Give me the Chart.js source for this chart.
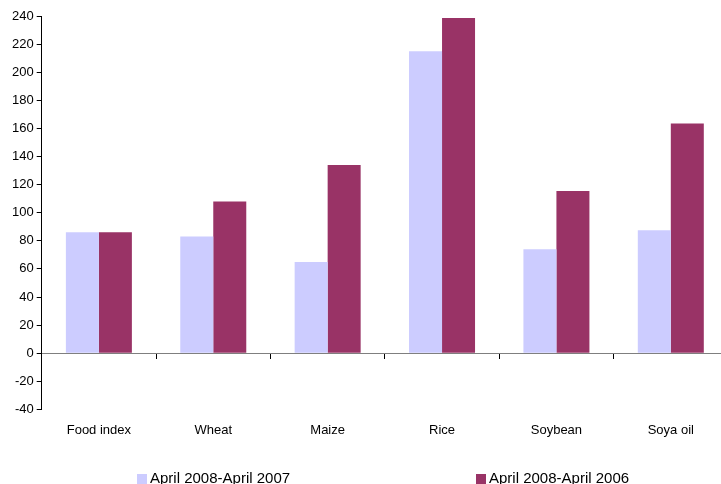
<!DOCTYPE html>
<html>
<head>
<meta charset="utf-8">
<script src="https://cdn.jsdelivr.net/npm/chart.js@4/dist/chart.umd.min.js"></script>
<style>
    html, body { margin: 0; padding: 0; background: #fff; overflow: hidden; }
    #wrap { position: relative; width: 721px; height: 484px; overflow: hidden; }
    #chartBox { position: absolute; left: 0; top: 0; width: 740px; height: 484px; }
    .legendItem { position: absolute; top: 469px; font: 15px "Liberation Sans", Arial, sans-serif; color: #000; white-space: nowrap; line-height: 17px; }
    .legendItem span.box { display: inline-block; width: 10px; height: 10px; margin-right: 3px; vertical-align: -1px; }
</style>
</head>
<body>
<div id="wrap">
    <div id="chartBox"><canvas id="myChart" width="740" height="484"></canvas></div>
    <div id="legend"></div>
</div>
<script>
const categories = ["Food index", "Wheat", "Maize", "Rice", "Soybean", "Soya oil"];
const seriesNames = ["April 2008-April 2007", "April 2008-April 2006"];
const change2007 = [86, 83, 65, 215, 74, 87.5];
const change2006 = [86, 108, 134, 238.5, 115.5, 163.5];
const seriesColors = ["#CCCCFF", "#993366"];
const yTicks = [-40, -20, 0, 20, 40, 60, 80, 100, 120, 140, 160, 180, 200, 220, 240];

const fontFamily = '"Liberation Sans", Arial, sans-serif';

window.addEventListener("load", () =>
{
    const ctx = document.getElementById('myChart').getContext('2d');
    new Chart(ctx, {
        type: 'bar',
        data: {
            labels: categories,
            datasets: [
                { label: seriesNames[0], data: change2007, backgroundColor: seriesColors[0], borderWidth: 0, xAxisID: 'x' },
                { label: seriesNames[1], data: change2006, backgroundColor: seriesColors[1], borderWidth: 0, xAxisID: 'x' }
            ]
        },
        options: {
            responsive: false,
            animation: false,
            layout: { padding: { left: 9, right: 12, top: 16, bottom: 33 } },
            datasets: { bar: { barPercentage: 1, categoryPercentage: 0.577 } },
            plugins: { legend: { display: false }, tooltip: { enabled: false } },
            scales: {
                x: {
                    position: 'bottom',
                    border: { display: false },
                    grid: { display: false, drawTicks: false },
                    ticks: { color: '#000', padding: 13, maxRotation: 0, font: { family: fontFamily, size: 13 } }
                },
                // zero line with category tick marks
                xZero: {
                    type: 'category',
                    labels: categories,
                    position: { y: 0 },
                    offset: true,
                    border: { display: true, color: '#7f7f7f', width: 1 },
                    grid: { offset: true, drawOnChartArea: false, tickLength: 5, color: '#000' },
                    ticks: { display: false }
                },
                y: {
                    min: yTicks[0],
                    max: yTicks[yTicks.length - 1],
                    afterBuildTicks: scale => { scale.ticks = yTicks.map(v => ({ value: v })); },
                    border: { color: '#000', width: 1 },
                    grid: { drawOnChartArea: false, tickLength: 5, color: '#000' },
                    ticks: { color: '#000', padding: 3, font: { family: fontFamily, size: 13 } }
                }
            }
        }
    });

    // legend below the chart
    const legend = document.getElementById('legend');
    const legendLeft = [137, 476];
    seriesNames.forEach((name, i) =>
    {
        const item = document.createElement('div');
        item.className = 'legendItem';
        item.style.left = legendLeft[i] + 'px';
        item.innerHTML = `<span class="box" style="background:${seriesColors[i]}"></span>${name}`;
        legend.appendChild(item);
    });
});
</script>
</body>
</html>
